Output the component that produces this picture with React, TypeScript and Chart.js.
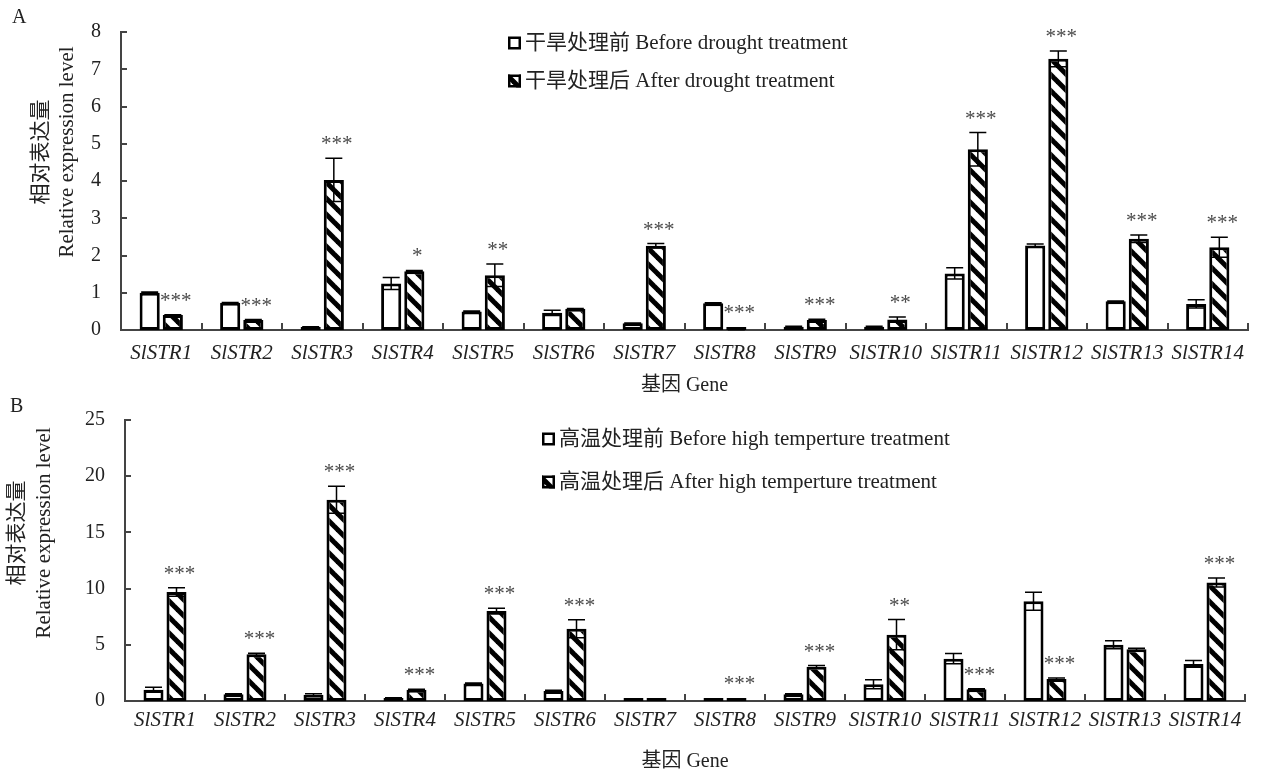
import React, { useEffect, useRef } from 'react';
import { Chart, registerables } from 'chart.js';

Chart.register(...registerables);

const FONT = "'Liberation Serif', 'Noto Sans CJK SC', serif";

const genes = ['SlSTR1', 'SlSTR2', 'SlSTR3', 'SlSTR4', 'SlSTR5', 'SlSTR6', 'SlSTR7', 'SlSTR8', 'SlSTR9', 'SlSTR10', 'SlSTR11', 'SlSTR12', 'SlSTR13', 'SlSTR14'];

// Panel A: drought
const droughtBefore = [1.0, 0.73, 0.08, 1.25, 0.5, 0.46, 0.18, 0.72, 0.09, 0.09, 1.52, 2.27, 0.77, 0.7];
const droughtBeforeErr = [0.02, 0.01, 0.01, 0.16, 0.01, 0.07, 0.01, 0.01, 0.01, 0.01, 0.15, 0.04, 0.01, 0.11];
const droughtAfter = [0.4, 0.27, 4.03, 1.58, 1.47, 0.57, 2.26, 0.02, 0.27, 0.28, 4.85, 7.28, 2.45, 2.22];
const droughtAfterErr = [0.01, 0.01, 0.58, 0.02, 0.3, 0.01, 0.06, 0.01, 0.02, 0.07, 0.45, 0.21, 0.1, 0.27];
const droughtSig = ['***', '***', '***', '*', '**', '', '***', '***', '***', '**', '***', '***', '***', '***'];
const droughtLegend = ['干旱处理前 Before drought treatment', '干旱处理后 After drought treatment'];

// Panel B: high temperature
const heatBefore = [1.0, 0.6, 0.55, 0.25, 1.55, 0.9, 0.05, 0.05, 0.6, 1.5, 3.77, 8.87, 5.0, 3.3];
const heatBeforeErr = [0.22, 0.05, 0.1, 0.05, 0.05, 0.05, 0, 0, 0.05, 0.4, 0.45, 0.8, 0.35, 0.3];
const heatAfter = [9.7, 4.15, 17.9, 1.0, 8.0, 6.43, 0.05, 0.05, 3.05, 5.9, 1.05, 1.95, 4.6, 10.55];
const heatAfterErr = [0.38, 0.1, 1.2, 0.05, 0.25, 0.8, 0, 0, 0.1, 1.35, 0.05, 0.1, 0.1, 0.4];
const heatSig = ['***', '***', '***', '***', '***', '***', '', '***', '***', '**', '***', '***', '', '***'];
const heatLegend = ['高温处理前 Before high temperture treatment', '高温处理后 After high temperture treatment'];

const yTitleLines = ['相对表达量', 'Relative expression level'];
const xTitle = '基因 Gene';

function makeHatch(): CanvasPattern | string {
  const c = document.createElement('canvas');
  c.width = 16;
  c.height = 16;
  const g = c.getContext('2d');
  if (!g) return '#888';
  g.fillStyle = '#fff';
  g.fillRect(0, 0, 16, 16);
  g.strokeStyle = '#000';
  g.lineWidth = 5;
  for (const x0 of [-16, 0, 16]) {
    g.beginPath();
    g.moveTo(x0 - 6, -6);
    g.lineTo(x0 + 22, 22);
    g.stroke();
  }
  return g.createPattern(c, 'repeat') || '#888';
}

type PanelProps = {
  letter: string;
  before: number[];
  beforeErr: number[];
  after: number[];
  afterErr: number[];
  sig: string[];
  legend: string[];
  yMax: number;
  yStep: number;
  area: { left: number; right: number; top: number; bottom: number };
  xAxisHeight: number;
  tickPad: number;
  letterPos: [number, number];
  legendPos: { x: number; ys: number[] };
  yTitlePos: { xs: number[]; y: number };
};

function Panel(p: PanelProps) {
  const ref = useRef<HTMLCanvasElement | null>(null);
  useEffect(() => {
    const canvas = ref.current;
    if (!canvas) return;
    const W = 1270;
    const H = 771;
    const hatch = makeHatch();
    const decor = {
      id: 'decor' + p.letter,
      afterDatasetsDraw(chart: any) {
        const ctx = chart.ctx as CanvasRenderingContext2D;
        const ys = chart.scales.y;
        const xs = chart.scales.x;
        const ca = chart.chartArea;
        ctx.save();
        // inner tick marks on y axis
        ctx.strokeStyle = '#444';
        ctx.lineWidth = 2;
        ys.ticks.forEach((t: any) => {
          const y = Math.round(ys.getPixelForValue(t.value));
          ctx.beginPath();
          ctx.moveTo(ca.left, y);
          ctx.lineTo(ca.left + 6, y);
          ctx.stroke();
        });
        // inner category boundary ticks on x axis
        const n = genes.length;
        const cw = (xs.right - xs.left) / n;
        for (let i = 1; i <= n; i++) {
          const x = Math.round(xs.left + i * cw);
          ctx.beginPath();
          ctx.moveTo(x, ca.bottom);
          ctx.lineTo(x, ca.bottom - 7);
          ctx.stroke();
        }
        // error bars
        const errs = [p.beforeErr, p.afterErr];
        const vals = [p.before, p.after];
        ctx.strokeStyle = '#000';
        ctx.lineWidth = 1.5;
        for (let d = 0; d < 2; d++) {
          const meta = chart.getDatasetMeta(d);
          meta.data.forEach((bar: any, j: number) => {
            const e = errs[d][j];
            if (!e) return;
            const v = vals[d][j];
            const yt = ys.getPixelForValue(v + e);
            const yb = ys.getPixelForValue(Math.max(0, v - e));
            ctx.beginPath();
            ctx.moveTo(bar.x, yt);
            ctx.lineTo(bar.x, yb);
            ctx.moveTo(bar.x - 8.5, yt);
            ctx.lineTo(bar.x + 8.5, yt);
            ctx.moveTo(bar.x - 8.5, yb);
            ctx.lineTo(bar.x + 8.5, yb);
            ctx.stroke();
          });
        }
        // significance asterisks
        ctx.fillStyle = '#4a4a4a';
        ctx.font = '21px ' + FONT;
        ctx.textAlign = 'center';
        ctx.textBaseline = 'alphabetic';
        const meta1 = chart.getDatasetMeta(1);
        meta1.data.forEach((bar: any, j: number) => {
          const s = p.sig[j];
          if (!s) return;
          const top = ys.getPixelForValue(p.after[j] + p.afterErr[j]);
          const yTop = Math.min(top, bar.y);
          ctx.fillText(s, bar.x + 3, yTop - 8);
        });
        // legend
        ctx.font = '21px ' + FONT;
        ctx.textAlign = 'left';
        ctx.textBaseline = 'middle';
        const fills = ['#fff', hatch];
        p.legend.forEach((lab, i) => {
          const y = p.legendPos.ys[i];
          const x = p.legendPos.x;
          ctx.fillStyle = fills[i] as any;
          ctx.fillRect(x, y - 6.5, 13, 13);
          ctx.strokeStyle = '#000';
          ctx.lineWidth = 2.5;
          ctx.strokeRect(x + 1.25, y - 5.25, 10.5, 10.5);
          ctx.fillStyle = '#222';
          ctx.fillText(lab, x + 17, y);
        });
        // y title (two rotated lines)
        ctx.font = '21px ' + FONT;
        ctx.fillStyle = '#222';
        ctx.textAlign = 'center';
        ctx.textBaseline = 'middle';
        yTitleLines.forEach((line, i) => {
          ctx.save();
          ctx.translate(p.yTitlePos.xs[i], p.yTitlePos.y);
          ctx.rotate(-Math.PI / 2);
          ctx.fillText(line, 0, 0);
          ctx.restore();
        });
        // panel letter
        ctx.font = '20px ' + FONT;
        ctx.fillStyle = '#222';
        ctx.textAlign = 'left';
        ctx.textBaseline = 'middle';
        ctx.fillText(p.letter, p.letterPos[0], p.letterPos[1]);
        ctx.restore();
      },
    };

    const chart = new Chart(canvas, {
      type: 'bar',
      data: {
        labels: genes,
        datasets: [
          {
            label: p.legend[0],
            data: p.before,
            backgroundColor: '#fff',
            borderColor: '#000',
            borderWidth: 3,
            borderSkipped: false,
            categoryPercentage: 0.575,
            barPercentage: 0.87,
            minBarLength: 3,
          },
          {
            label: p.legend[1],
            data: p.after,
            backgroundColor: hatch as any,
            borderColor: '#000',
            borderWidth: 3,
            borderSkipped: false,
            categoryPercentage: 0.575,
            barPercentage: 0.87,
            minBarLength: 3,
          },
        ],
      },
      options: {
        responsive: false,
        animation: false,
        devicePixelRatio: 1,
        events: [],
        layout: {
          padding: {
            left: 0,
            top: p.area.top,
            right: W - p.area.right,
            bottom: H - p.area.bottom - p.xAxisHeight,
          },
        },
        plugins: {
          legend: { display: false },
          tooltip: { enabled: false },
        },
        scales: {
          x: {
            grid: { display: false, drawTicks: false },
            border: { display: true, color: '#444', width: 2 },
            ticks: {
              font: { family: FONT, size: 21, style: 'italic' },
              color: '#222',
              padding: p.tickPad,
              maxRotation: 0,
              autoSkip: false,
            },
            title: {
              display: true,
              text: xTitle,
              font: { family: FONT, size: 20, lineHeight: 1.0 },
              color: '#222',
              padding: { top: 0, bottom: -1 },
            },
            afterFit(scale: any) {
              scale.height = p.xAxisHeight;
            },
          },
          y: {
            min: 0,
            max: p.yMax,
            grid: { display: false, drawTicks: false },
            border: { display: true, color: '#444', width: 2 },
            ticks: {
              stepSize: p.yStep,
              font: { family: FONT, size: 20 },
              color: '#222',
              padding: 20,
            },
            afterFit(scale: any) {
              scale.width = p.area.left;
            },
          },
        },
      },
      plugins: [decor],
    } as any);
    return () => chart.destroy();
  }, []);
  return (
    <canvas
      ref={ref}
      width={1270}
      height={771}
      style={{ position: 'absolute', left: 0, top: 0, width: 1270, height: 771 }}
    />
  );
}

export default function App() {
  return (
    <div style={{ position: 'absolute', left: 0, top: 0, width: 1270, height: 771, background: '#fff', overflow: 'hidden' }}>
      <Panel
        letter="A"
        before={droughtBefore}
        beforeErr={droughtBeforeErr}
        after={droughtAfter}
        afterErr={droughtAfterErr}
        sig={droughtSig}
        legend={droughtLegend}
        yMax={8}
        yStep={1}
        area={{ left: 121, right: 1248, top: 22, bottom: 330 }}
        xAxisHeight={65}
        tickPad={11}
        letterPos={[12, 18]}
        legendPos={{ x: 508, ys: [43, 81] }}
        yTitlePos={{ xs: [41, 67], y: 152 }}
      />
      <Panel
        letter="B"
        before={heatBefore}
        beforeErr={heatBeforeErr}
        after={heatAfter}
        afterErr={heatAfterErr}
        sig={heatSig}
        legend={heatLegend}
        yMax={25}
        yStep={5}
        area={{ left: 125, right: 1245, top: 420, bottom: 701 }}
        xAxisHeight={70}
        tickPad={7}
        letterPos={[10, 407]}
        legendPos={{ x: 542, ys: [439, 482] }}
        yTitlePos={{ xs: [17, 44], y: 533 }}
      />
    </div>
  );
}
